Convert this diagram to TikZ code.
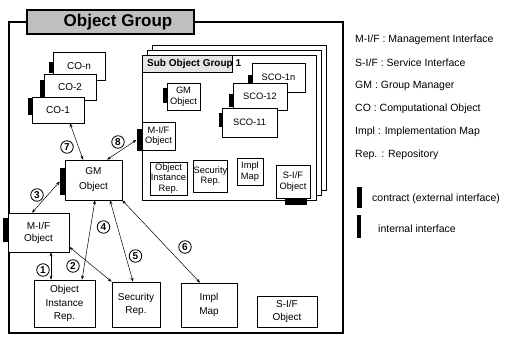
\documentclass[tikz,border=0pt]{standalone}
\usepackage{fontspec}
\setmainfont{Liberation Sans}
\usetikzlibrary{arrows.meta,positioning}

\begin{document}
\begin{tikzpicture}[x=1pt, y=-1pt,
  objbox/.style={draw, fill=white, line width=0.7pt, align=center, inner sep=0pt, font=\fontsize{10}{13.5}\selectfont},
  subbox/.style={objbox, font=\fontsize{9.3}{10.5}\selectfont},
  extbar/.style={fill=black, inner sep=0pt, minimum width=5pt},
  intbar/.style={fill=black, inner sep=0pt, minimum width=4pt},
  numcirc/.style={circle, draw, line width=0.8pt, inner sep=0pt, minimum size=12.5pt, font=\fontsize{10}{10}\selectfont\bfseries},
  link/.style={{Stealth[length=4pt,width=3pt]}-{Stealth[length=4pt,width=3pt]}, line width=0.5pt},
  legend/.style={anchor=west, inner sep=0pt, font=\fontsize{10.5}{11}\selectfont}]
 \useasboundingbox (0,0) rectangle (505,337);
 \clip (0,0) rectangle (505,337);

 % Object group frame
 \draw[line width=1.2pt] (9,22) rectangle (343,333);
 \node[draw, fill=gray!50, line width=1.8pt, minimum width=167pt, minimum height=24pt, inner sep=0pt] (titlebox) at (110.5,22) {};
 \node[font=\fontsize{17}{17}\selectfont\bfseries] (titletext) at (118,22.5) {Object Group};

 % Sub object group frames
 \foreach \d in {2,1,0}
  \draw[fill=white, line width=0.9pt] (142+5*\d,55-5*\d) rectangle (316+5*\d,200-5*\d);
 \node[draw, fill=gray!20, line width=0.6pt, minimum width=90pt, minimum height=17pt, inner sep=0pt] (sublabel) at (187,63.5) {};
 \node[anchor=west, inner sep=0pt, font=\fontsize{10}{10}\selectfont\bfseries] (subtitle) at (147,63.5) {Sub Object Group 1};

 % Objects inside the sub group
 \node[subbox, minimum width=33pt, minimum height=27pt] (sgm) at (183.5,96.5) {GM\\Object};
 \node[intbar, minimum height=15pt] (sgmbar) at (165,95.5) {};
 \node[subbox, minimum width=53pt, minimum height=29pt] (sco1n) at (278.5,77.5) {SCO-1n};
 \node[intbar, minimum height=12pt] (sco1nbar) at (250,81) {};
 \node[subbox, minimum width=54pt, minimum height=27pt] (sco12) at (260,96.5) {SCO-12};
 \node[intbar, minimum height=13pt] (sco12bar) at (231,100.5) {};
 \node[subbox, minimum width=55pt, minimum height=29pt] (sco11) at (249.5,122.5) {SCO-11};
 \node[intbar, minimum height=14pt] (sco11bar) at (221,120) {};
 \node[subbox, minimum width=33pt, minimum height=28pt] (smif) at (158.5,136) {M-I/F\\Object};
 \node[extbar, minimum height=22pt] (smifbar) at (139,140) {};
 \node[subbox, minimum width=37pt, minimum height=33pt] (soir) at (168.5,178.5) {Object\\Instance\\Rep.};
 \node[subbox, minimum width=33pt, minimum height=32pt] (ssrep) at (210.5,176) {Security\\Rep.};
 \node[subbox, minimum width=26pt, minimum height=27pt] (simpl) at (250,171.5) {Impl\\Map};
 \node[subbox, minimum width=34pt, minimum height=33pt] (ssif) at (293,181.5) {S-I/F\\Object};
 \node[fill=black, inner sep=0pt, minimum width=22pt, minimum height=6pt] (ssifbar) at (296,202) {};

 % Computational objects
 \node[objbox, minimum width=52pt, minimum height=28pt] (con) at (79,66) {CO-n};
 \node[intbar, minimum height=11pt] (conbar) at (50.5,67) {};
 \node[objbox, minimum width=52pt, minimum height=26pt] (co2) at (70,87) {CO-2};
 \node[intbar, minimum height=17pt] (co2bar) at (42,88.5) {};
 \node[objbox, minimum width=52pt, minimum height=26pt] (co1) at (58,110) {CO-1};
 \node[intbar, minimum height=17pt] (co1bar) at (30,106.5) {};

 % Management objects
 \node[objbox, minimum width=57pt, minimum height=40pt, font=\fontsize{10}{15}\selectfont] (gm) at (93.5,180) {GM\\Object};
 \node[extbar, minimum height=27pt] (gmbar) at (62.5,181.5) {};
 \node[objbox, minimum width=61pt, minimum height=39pt, font=\fontsize{10}{12}\selectfont] (mif) at (38.5,232.5) {M-I/F\\Object};
 \node[extbar, minimum height=24pt] (mifbar) at (5.5,230) {};
 \node[objbox, minimum width=61pt, minimum height=47pt] (oir) at (64.5,303.5) {Object\\Instance\\Rep.};
 \node[objbox, minimum width=48pt, minimum height=45pt] (srep) at (136,304.5) {Security\\Rep.};
 \node[objbox, minimum width=56pt, minimum height=44pt] (impl) at (209,305) {Impl\\Map};
 \node[objbox, minimum width=60pt, minimum height=31pt] (sif) at (287,311.5) {S-I/F\\Object};

 % Interactions
 \draw[link] ([xshift=12pt]co1.south) -- ([xshift=-10.5pt]gm.north);
 \draw[link] ([xshift=13.5pt]gm.north) -- (smifbar.west);
 \draw[link] ([xshift=-6.5pt]mif.north) -- (gmbar.west);
 \draw[link] ([xshift=12.5pt]mif.south) -- ([xshift=-13.5pt]oir.north);
 \draw[link] ([xshift=1.5pt]gm.south) -- ([xshift=17.5pt]oir.north);
 \draw[link] ([yshift=-14.5pt]mif.east) -- (srep.north west);
 \draw[link] ([xshift=16.5pt]gm.south) -- ([xshift=-3pt]srep.north);
 \draw[link] (gm.south east) -- ([xshift=-9pt]impl.north);

 % Step numbers
 \node[numcirc] (n1) at (43,270) {1};
 \node[numcirc] (n2) at (73,266) {2};
 \node[numcirc] (n3) at (37,195) {3};
 \node[numcirc] (n4) at (103.5,227) {4};
 \node[numcirc] (n5) at (135.5,256) {5};
 \node[numcirc] (n6) at (185,247) {6};
 \node[numcirc] (n7) at (67,147) {7};
 \node[numcirc] (n8) at (118,142) {8};

 % Legend
 \foreach \txt [count=\i] in {M-I/F : Management Interface, S-I/F : Service Interface,
   GM : Group Manager, CO : Computational Object, Impl : Implementation Map, Rep. : Repository}
  \node[legend] (leg\i) at (355,17+23*\i) {\txt};
 \node[extbar, minimum height=21pt] (contractbar) at (359.5,197.5) {};
 \node[legend] (contracttext) at (372,199) {contract (external interface)};
 \node[intbar, minimum height=23pt] (internalbar) at (359,226.5) {};
 \node[legend] (internaltext) at (378,229) {internal interface};
\end{tikzpicture}
\end{document}
